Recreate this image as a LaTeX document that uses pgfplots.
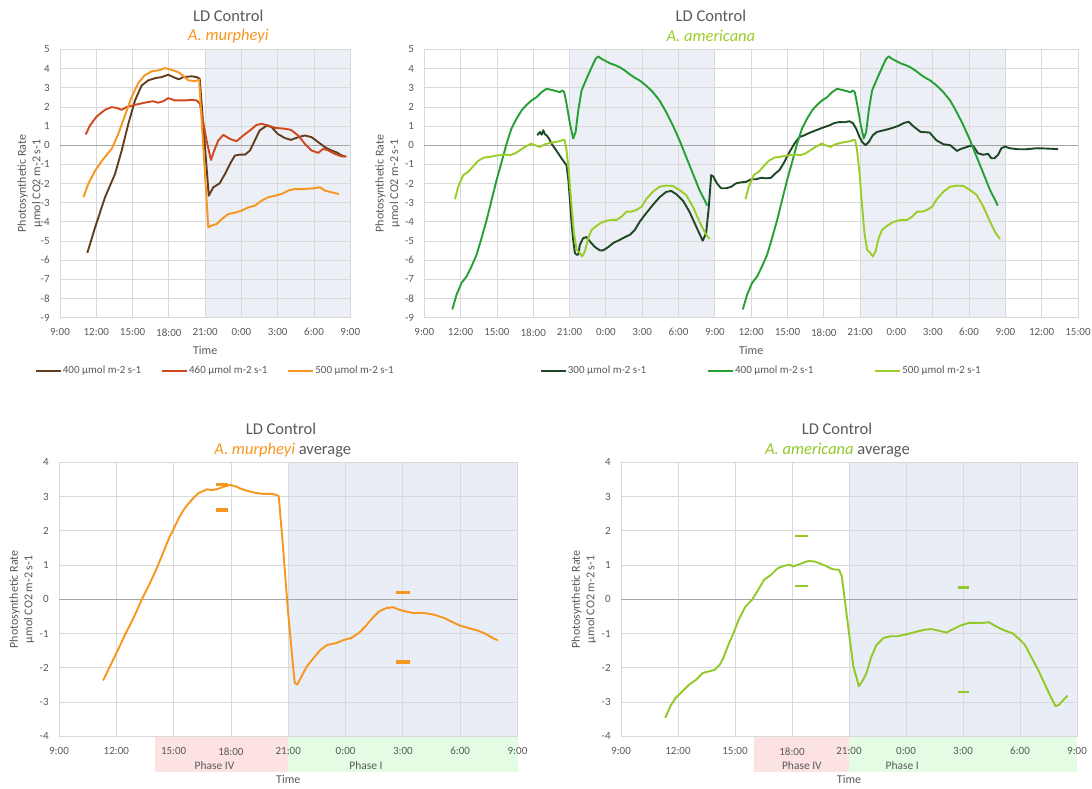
\documentclass[border=0pt]{standalone}
\usepackage{fontspec}
\setmainfont{Carlito}
\usepackage{pgfplots}
\pgfplotsset{compat=1.18}
\definecolor{textgray}{RGB}{89,89,89}
\definecolor{gridgray}{RGB}{217,217,217}
\definecolor{zerogray}{RGB}{166,166,166}
\definecolor{nightA}{RGB}{236,239,246}
\definecolor{nightB}{RGB}{233,237,245}
\definecolor{phasefour}{RGB}{252,226,226}
\definecolor{phaseone}{RGB}{228,252,228}
\definecolor{brownc}{RGB}{99,62,30}
\definecolor{redc}{RGB}{208,72,32}
\definecolor{orangec}{RGB}{247,150,30}
\definecolor{dkgreen}{RGB}{30,72,36}
\definecolor{mdgreen}{RGB}{36,160,52}
\definecolor{ltgreen}{RGB}{155,205,40}
\definecolor{avggreen}{RGB}{146,200,40}
\pgfplotsset{
  chartbase/.style={
    scale only axis, set layers, clip=false, anchor=south west,
    grid=major, major grid style={draw=gridgray, line width=0.8pt},
    axis line style={draw=gridgray, line width=0.8pt},
    major tick length=0pt,
    tick label style={text=textgray, font=\fontsize{11}{13}\selectfont},
    yticklabel style={anchor=east, xshift=-6.8pt},
    /pgf/number format/assume math mode=true,
    ylabel={Photosynthetic Rate\\µmol CO2 m-2 s-1},
    ylabel style={anchor=center, align=center, font=\fontsize{12}{14.5}\selectfont, text=textgray},
    xlabel={Time},
    xlabel style={anchor=center, font=\fontsize{12}{14}\selectfont, text=textgray},
    legend image code/.code={\draw[#1] (0pt,0pt) -- (25pt,0pt);},
    legend cell align=left,
    legend style={draw=none, fill=none, inner sep=0pt, outer sep=0pt, anchor=west,
      font=\fontsize{11}{13}\selectfont, text=textgray, legend columns=3,
      nodes={inner sep=1pt}},
  },
  dl/.style={line width=1.9pt, line join=round},
}
\begin{document}
\begin{tikzpicture}
% ---------- titles ----------
\node[font=\fontsize{16.5}{18}\selectfont, text=textgray] at (228.3pt,772.3pt) {LD Control};
\node[font=\fontsize{16.5}{18}\selectfont\itshape, text=orangec] at (228.3pt,752pt) {A. murpheyi};
\node[font=\fontsize{16.5}{18}\selectfont, text=textgray] at (710.9pt,772.3pt) {LD Control};
\node[font=\fontsize{16.5}{18}\selectfont\itshape, text=ltgreen] at (710.9pt,752pt) {A. americana};
\node[font=\fontsize{16.5}{18}\selectfont, text=textgray] at (281pt,359pt) {LD Control};
\node[font=\fontsize{16.5}{18}\selectfont, text=textgray] at (282.8pt,338pt) {\textcolor{orangec}{\itshape A. murpheyi} average};
\node[font=\fontsize{16.5}{18}\selectfont, text=textgray] at (837pt,359pt) {LD Control};
\node[font=\fontsize{16.5}{18}\selectfont, text=textgray] at (837.4pt,338pt) {\textcolor{avggreen}{\itshape A. americana} average};

% ---------- panel 1 ----------
\begin{axis}[chartbase, at={(60pt,470.5pt)}, width=290.3pt, height=268pt,
  xmin=9, xmax=33, ymin=-9, ymax=5, ytick={-9,-8,...,5},
  xtick={9,12,...,33}, xticklabels={9:00,12:00,15:00,18:00,21:00,0:00,3:00,6:00,9:00},
  xticklabel style={anchor=center, yshift=-14.8pt},
  ylabel style={at={(rel axis cs:-0.1033,0.5)}},
  xlabel style={at={(rel axis cs:0.5,-0.1213)}},
  legend style={at={(rel axis cs:-0.0861,-0.1985)}, /tikz/every even column/.append style={column sep=19pt}},
]
\begin{pgfonlayer}{axis background}
\fill[nightA] (axis cs:21,-9) rectangle (axis cs:33,5);
\end{pgfonlayer}
\draw[zerogray, line width=0.8pt] (axis cs:9,0) -- (axis cs:33,0);
\addplot[dl, brownc] coordinates {(11.26,-5.62)(11.9,-4.3)(12.72,-2.72)(13.55,-1.5)(14.1,-0.28)(14.65,1.12)(15.2,2.34)(15.75,3.12)(16.3,3.39)(16.85,3.5)(17.4,3.56)(17.95,3.68)(18.37,3.56)(18.83,3.44)(19.2,3.56)(19.88,3.6)(20.3,3.56)(20.55,3.47)(21.3,-2.64)(21.67,-2.2)(22.2,-1.99)(22.64,-1.5)(23.05,-0.98)(23.46,-0.54)(23.88,-0.49)(24.3,-0.49)(24.7,-0.28)(25.1,0.24)(25.5,0.77)(26.1,1.03)(26.5,0.94)(27.0,0.59)(27.6,0.37)(28.1,0.28)(28.7,0.42)(29.25,0.51)(29.8,0.42)(30.35,0.16)(30.9,-0.1)(31.45,-0.28)(31.86,-0.37)(32.3,-0.54)(32.6,-0.59)};
\addlegendentry{400 µmol m-2 s-1}
\addplot[dl, redc] coordinates {(11.12,0.56)(11.48,1.03)(12.03,1.5)(12.72,1.85)(13.27,1.99)(13.68,1.95)(14.1,1.85)(14.5,1.99)(15.2,2.11)(16.0,2.22)(16.7,2.3)(17.1,2.22)(17.54,2.3)(17.95,2.46)(18.5,2.34)(19.33,2.34)(19.88,2.37)(20.3,2.34)(20.57,2.16)(21.12,0.24)(21.48,-0.77)(21.75,-0.28)(22.08,0.24)(22.5,0.54)(23.05,0.33)(23.6,0.21)(24.15,0.51)(24.7,0.77)(25.25,1.06)(25.67,1.12)(26.2,1.03)(26.77,0.91)(27.6,0.86)(28.1,0.8)(28.7,0.5)(29.25,0.07)(29.8,-0.28)(30.35,-0.4)(30.76,-0.19)(31.2,-0.28)(31.7,-0.45)(32.3,-0.59)(32.7,-0.59)};
\addlegendentry{460 µmol m-2 s-1}
\addplot[dl, orangec] coordinates {(10.93,-2.72)(11.34,-2.02)(11.9,-1.33)(12.58,-0.72)(13.27,-0.19)(13.82,0.59)(14.37,1.55)(14.92,2.51)(15.47,3.25)(16.0,3.65)(16.58,3.86)(17.13,3.91)(17.68,4.03)(18.2,3.94)(18.78,3.82)(19.2,3.61)(19.6,3.39)(20.16,3.35)(20.5,3.42)(21.26,-4.29)(21.53,-4.2)(21.95,-4.12)(22.36,-3.86)(22.9,-3.6)(23.6,-3.5)(24.0,-3.42)(24.56,-3.25)(25.1,-3.16)(25.67,-2.9)(26.2,-2.72)(26.77,-2.64)(27.3,-2.55)(27.87,-2.37)(28.4,-2.29)(29.25,-2.29)(29.94,-2.25)(30.5,-2.2)(30.9,-2.37)(31.45,-2.46)(32.06,-2.55)};
\addlegendentry{500 µmol m-2 s-1}
\end{axis}

% ---------- panel 2 ----------
\begin{axis}[chartbase, at={(424.3pt,470.5pt)}, width=653.7pt, height=268pt,
  xmin=9, xmax=63, ymin=-9, ymax=5, ytick={-9,-8,...,5},
  xtick={9,12,...,63}, xticklabels={9:00,12:00,15:00,18:00,21:00,0:00,3:00,6:00,9:00,12:00,15:00,18:00,21:00,0:00,3:00,6:00,9:00,12:00,15:00},
  xticklabel style={anchor=center, yshift=-14.8pt},
  ylabel style={at={(rel axis cs:-0.056,0.5)}},
  xlabel style={at={(rel axis cs:0.5,-0.1213)}},
  legend style={at={(rel axis cs:0.177,-0.1985)}, /tikz/every even column/.append style={column sep=60pt}},
]
\begin{pgfonlayer}{axis background}
\fill[nightA] (axis cs:21,-9) rectangle (axis cs:33,5);
\fill[nightA] (axis cs:45,-9) rectangle (axis cs:57,5);
\end{pgfonlayer}
\draw[zerogray, line width=0.8pt] (axis cs:9,0) -- (axis cs:63,0);
\addplot[dl, dkgreen] coordinates {(18.33,0.52)(18.55,0.69)(18.69,0.55)(18.83,0.78)(18.96,0.57)(19.1,0.52)(19.3,0.35)(19.5,0.09)(19.79,-0.17)(20.07,-0.43)(20.34,-0.69)(20.6,-0.92)(20.75,-1.04)(20.9,-1.82)(21.03,-2.86)(21.17,-4.07)(21.3,-4.94)(21.44,-5.63)(21.58,-5.72)(21.72,-5.72)(21.85,-5.2)(22.13,-4.85)(22.4,-4.8)(22.68,-5.03)(23.1,-5.32)(23.5,-5.49)(23.78,-5.49)(24.2,-5.32)(24.6,-5.11)(25.16,-4.94)(25.57,-4.8)(25.98,-4.68)(26.4,-4.42)(26.8,-3.99)(27.33,-3.55)(27.88,-3.12)(28.43,-2.72)(28.98,-2.44)(29.4,-2.39)(29.8,-2.55)(30.36,-2.89)(30.9,-3.47)(31.46,-4.25)(32.0,-4.99)(32.28,-4.59)(32.48,-3.38)(32.7,-1.56)(32.89,-1.65)(33.17,-1.99)(33.52,-2.25)(33.94,-2.25)(34.35,-2.17)(34.76,-1.99)(35.17,-1.94)(35.6,-1.91)(36.0,-1.78)(36.4,-1.78)(36.83,-1.7)(37.24,-1.73)(37.65,-1.7)(37.93,-1.51)(38.34,-1.3)(38.75,-0.87)(39.17,-0.35)(39.58,0.09)(40.0,0.43)(40.4,0.52)(40.8,0.64)(41.23,0.75)(41.64,0.85)(42.06,0.95)(42.47,1.04)(42.88,1.16)(43.3,1.21)(43.7,1.2)(44.1,1.25)(44.4,1.16)(44.67,0.87)(44.95,0.43)(45.17,0.17)(45.44,0.0)(45.72,0.17)(46.05,0.52)(46.38,0.69)(46.74,0.75)(47.15,0.81)(47.5,0.87)(48.08,0.99)(48.65,1.17)(49.03,1.22)(49.4,0.99)(49.98,0.7)(50.74,0.66)(51.3,0.26)(51.88,0.05)(52.45,0.0)(53.0,-0.3)(53.3,-0.2)(53.78,-0.1)(54.1,-0.03)(54.36,-0.05)(54.74,-0.42)(55.16,-0.5)(55.57,-0.45)(55.84,-0.68)(56.1,-0.68)(56.4,-0.5)(56.67,-0.16)(56.95,-0.07)(57.36,-0.16)(58.05,-0.21)(58.73,-0.21)(59.56,-0.16)(60.25,-0.17)(60.94,-0.19)(61.35,-0.21)};
\addlegendentry{300 µmol m-2 s-1}
\addplot[dl, mdgreen] coordinates {(11.31,-8.58)(11.67,-7.8)(12.08,-7.19)(12.5,-6.85)(12.9,-6.33)(13.32,-5.72)(13.73,-4.85)(14.15,-3.9)(14.56,-2.86)(14.97,-1.82)(15.39,-0.87)(15.8,0.09)(16.2,0.87)(16.62,1.39)(17.04,1.82)(17.45,2.11)(17.86,2.34)(18.28,2.51)(18.69,2.77)(19.1,2.95)(19.5,2.89)(19.93,2.82)(20.2,2.77)(20.4,2.86)(20.56,2.77)(20.75,2.17)(21.03,1.13)(21.3,0.35)(21.5,0.69)(21.72,1.82)(21.99,2.86)(22.4,3.47)(22.82,4.07)(23.15,4.51)(23.37,4.64)(23.64,4.51)(23.92,4.42)(24.33,4.28)(24.74,4.19)(25.16,4.07)(25.57,3.9)(26.0,3.69)(26.4,3.52)(26.8,3.38)(27.22,3.17)(27.6,2.95)(27.88,2.77)(28.43,2.34)(28.98,1.73)(29.53,1.04)(30.08,0.26)(30.63,-0.61)(31.18,-1.47)(31.73,-2.34)(32.15,-2.86)(32.37,-3.15)};
\addlegendentry{400 µmol m-2 s-1}
\addplot[dl, ltgreen] coordinates {(11.53,-2.82)(11.8,-2.17)(12.22,-1.56)(12.63,-1.39)(13.05,-1.09)(13.46,-0.81)(13.95,-0.64)(14.42,-0.61)(14.84,-0.55)(15.25,-0.52)(15.66,-0.49)(16.07,-0.52)(16.49,-0.43)(16.9,-0.26)(17.31,-0.09)(17.73,0.05)(17.86,0.09)(18.14,0.0)(18.55,-0.09)(18.96,0.05)(19.38,0.12)(19.79,0.17)(20.2,0.21)(20.48,0.29)(20.6,0.26)(20.75,-0.26)(20.95,-1.47)(21.17,-3.21)(21.36,-4.59)(21.58,-5.46)(21.85,-5.63)(22.05,-5.81)(22.27,-5.55)(22.54,-4.85)(22.82,-4.42)(23.23,-4.21)(23.64,-4.04)(24.06,-3.95)(24.47,-3.9)(24.88,-3.9)(25.3,-3.73)(25.7,-3.47)(26.12,-3.47)(26.53,-3.38)(26.95,-3.21)(27.33,-2.82)(27.88,-2.43)(28.43,-2.17)(28.98,-2.11)(29.53,-2.13)(30.08,-2.34)(30.63,-2.6)(31.18,-3.21)(31.73,-3.99)(32.2,-4.59)(32.56,-4.9)};
\addlegendentry{500 µmol m-2 s-1}
\addplot[dl, mdgreen, forget plot] coordinates {(35.31,-8.58)(35.67,-7.8)(36.08,-7.19)(36.5,-6.85)(36.9,-6.33)(37.32,-5.72)(37.73,-4.85)(38.15,-3.9)(38.56,-2.86)(38.97,-1.82)(39.39,-0.87)(39.8,0.09)(40.2,0.87)(40.62,1.39)(41.04,1.82)(41.45,2.11)(41.86,2.34)(42.28,2.51)(42.69,2.77)(43.1,2.95)(43.5,2.89)(43.93,2.82)(44.2,2.77)(44.4,2.86)(44.56,2.77)(44.75,2.17)(45.03,1.13)(45.3,0.35)(45.5,0.69)(45.72,1.82)(45.99,2.86)(46.4,3.47)(46.82,4.07)(47.15,4.51)(47.37,4.64)(47.64,4.51)(47.92,4.42)(48.33,4.28)(48.74,4.19)(49.16,4.07)(49.57,3.9)(50.0,3.69)(50.4,3.52)(50.8,3.38)(51.22,3.17)(51.6,2.95)(51.88,2.77)(52.43,2.34)(52.98,1.73)(53.53,1.04)(54.08,0.26)(54.63,-0.61)(55.18,-1.47)(55.73,-2.34)(56.15,-2.86)(56.37,-3.15)};
\addplot[dl, ltgreen, forget plot] coordinates {(35.53,-2.82)(35.8,-2.17)(36.22,-1.56)(36.63,-1.39)(37.05,-1.09)(37.46,-0.81)(37.95,-0.64)(38.42,-0.61)(38.84,-0.55)(39.25,-0.52)(39.66,-0.49)(40.07,-0.52)(40.49,-0.43)(40.9,-0.26)(41.31,-0.09)(41.73,0.05)(41.86,0.09)(42.14,0.0)(42.55,-0.09)(42.96,0.05)(43.38,0.12)(43.79,0.17)(44.2,0.21)(44.48,0.29)(44.6,0.26)(44.75,-0.26)(44.95,-1.47)(45.17,-3.21)(45.36,-4.59)(45.58,-5.46)(45.85,-5.63)(46.05,-5.81)(46.27,-5.55)(46.54,-4.85)(46.82,-4.42)(47.23,-4.21)(47.64,-4.04)(48.06,-3.95)(48.47,-3.9)(48.88,-3.9)(49.3,-3.73)(49.7,-3.47)(50.12,-3.47)(50.53,-3.38)(50.95,-3.21)(51.33,-2.82)(51.88,-2.43)(52.43,-2.17)(52.98,-2.11)(53.53,-2.13)(54.08,-2.34)(54.63,-2.6)(55.18,-3.21)(55.73,-3.99)(56.2,-4.59)(56.56,-4.9)};
\end{axis}

% ---------- panel 3 ----------
\begin{axis}[chartbase, at={(59pt,51.7pt)}, width=458.5pt, height=274pt,
  xmin=9, xmax=33, ymin=-4, ymax=4, ytick={-4,-3,...,4},
  xtick={9,12,...,33}, xticklabels={9:00,12:00,15:00,18:00,21:00,0:00,3:00,6:00,9:00},
  xticklabel style={anchor=center, yshift=-15pt},
  ylabel style={at={(rel axis cs:-0.0807,0.5)}},
  xlabel style={at={(rel axis cs:0.5,-0.157)}},
]
\begin{pgfonlayer}{axis background}
\fill[nightB] (axis cs:21,-4) rectangle (axis cs:33,4);
\fill[phasefour] (axis cs:14,-4) rectangle (axis cs:21,-5.034);
\fill[phaseone] (axis cs:21,-4) rectangle (axis cs:33,-5.034);
\end{pgfonlayer}
\node[font=\fontsize{11.5}{13}\selectfont, text=textgray, yshift=-29pt] at (axis cs:17.14,-4) {Phase IV};
\node[font=\fontsize{11.5}{13}\selectfont, text=textgray, yshift=-29pt] at (axis cs:25.07,-4) {Phase I};
\draw[zerogray, line width=0.8pt] (axis cs:9,0) -- (axis cs:33,0);
\addplot[dl, orangec] coordinates {(11.31,-2.37)(11.7,-1.92)(12.15,-1.4)(12.51,-0.97)(12.78,-0.68)(13.05,-0.36)(13.32,-0.02)(13.68,0.38)(14.05,0.82)(14.4,1.29)(14.77,1.8)(15.04,2.1)(15.3,2.4)(15.58,2.66)(15.94,2.9)(16.3,3.1)(16.75,3.21)(17.02,3.19)(17.29,3.22)(17.65,3.29)(17.97,3.34)(18.28,3.29)(18.55,3.22)(18.9,3.16)(19.27,3.11)(19.63,3.08)(19.9,3.08)(20.17,3.08)(20.5,3.02)(20.71,1.64)(20.98,-0.31)(21.22,-1.77)(21.34,-2.44)(21.47,-2.49)(21.7,-2.25)(21.97,-1.96)(22.33,-1.71)(22.7,-1.47)(23.05,-1.33)(23.5,-1.28)(23.95,-1.18)(24.3,-1.13)(24.68,-0.99)(25.04,-0.79)(25.4,-0.55)(25.76,-0.35)(26.12,-0.26)(26.48,-0.23)(26.84,-0.31)(27.2,-0.36)(27.56,-0.4)(28.1,-0.4)(28.64,-0.45)(29.18,-0.55)(29.54,-0.65)(30.0,-0.77)(30.44,-0.84)(30.9,-0.91)(31.34,-1.01)(31.7,-1.13)(31.97,-1.2)};
\addplot[orangec, line width=3.2pt] coordinates {(17.2,3.35)(17.83,3.35)};
\addplot[orangec, line width=3.2pt] coordinates {(17.2,2.61)(17.83,2.61)};
\addplot[orangec, line width=3.2pt] coordinates {(26.66,0.21)(27.38,0.21)};
\addplot[orangec, line width=3.2pt] coordinates {(26.66,-1.83)(27.38,-1.83)};
\end{axis}

% ---------- panel 4 ----------
\begin{axis}[chartbase, at={(621pt,51.7pt)}, width=456pt, height=274pt,
  xmin=9, xmax=33, ymin=-4, ymax=4, ytick={-4,-3,...,4},
  xtick={9,12,...,33}, xticklabels={9:00,12:00,15:00,18:00,21:00,0:00,3:00,6:00,9:00},
  xticklabel style={anchor=center, yshift=-15pt},
  ylabel style={at={(rel axis cs:-0.0811,0.5)}},
  xlabel style={at={(rel axis cs:0.5,-0.157)}},
]
\begin{pgfonlayer}{axis background}
\fill[nightB] (axis cs:21,-4) rectangle (axis cs:33,4);
\fill[phasefour] (axis cs:16,-4) rectangle (axis cs:21,-5.034);
\fill[phaseone] (axis cs:21,-4) rectangle (axis cs:33,-5.034);
\end{pgfonlayer}
\node[font=\fontsize{11.5}{13}\selectfont, text=textgray, yshift=-29pt] at (axis cs:18.52,-4) {Phase IV};
\node[font=\fontsize{11.5}{13}\selectfont, text=textgray, yshift=-29pt] at (axis cs:23.8,-4) {Phase I};
\draw[zerogray, line width=0.8pt] (axis cs:9,0) -- (axis cs:33,0);
\addplot[dl, avggreen] coordinates {(11.33,-3.46)(11.6,-3.12)(11.87,-2.88)(12.23,-2.69)(12.59,-2.49)(12.95,-2.35)(13.3,-2.15)(13.66,-2.1)(13.93,-2.06)(14.2,-1.91)(14.38,-1.72)(14.65,-1.33)(14.92,-0.99)(15.19,-0.6)(15.55,-0.21)(15.9,-0.01)(16.17,0.23)(16.53,0.57)(16.89,0.71)(17.25,0.91)(17.6,0.98)(17.88,1.01)(18.06,0.96)(18.33,1.01)(18.6,1.07)(18.87,1.12)(19.22,1.1)(19.49,1.04)(19.76,0.98)(20.12,0.88)(20.48,0.86)(20.62,0.67)(20.8,-0.11)(21.02,-1.08)(21.23,-1.96)(21.52,-2.54)(21.74,-2.35)(21.92,-2.15)(22.18,-1.67)(22.45,-1.33)(22.81,-1.13)(23.17,-1.08)(23.53,-1.08)(23.89,-1.04)(24.25,-0.99)(24.6,-0.94)(24.96,-0.89)(25.32,-0.87)(25.68,-0.91)(26.13,-0.97)(26.49,-0.87)(26.85,-0.77)(27.3,-0.69)(27.66,-0.69)(28.0,-0.69)(28.37,-0.67)(28.73,-0.79)(29.1,-0.89)(29.63,-1.0)(29.99,-1.18)(30.26,-1.33)(30.53,-1.62)(30.9,-2.0)(31.24,-2.4)(31.6,-2.83)(31.87,-3.12)(32.05,-3.08)(32.3,-2.93)(32.5,-2.81)};
\addplot[avggreen, line width=2.4pt] coordinates {(18.18,1.85)(18.83,1.85)};
\addplot[avggreen, line width=2.4pt] coordinates {(18.18,0.39)(18.83,0.39)};
\addplot[avggreen, line width=2.4pt] coordinates {(26.72,0.34)(27.33,0.34)};
\addplot[avggreen, line width=2.4pt] coordinates {(26.72,-2.7)(27.33,-2.7)};
\end{axis}
\pgfresetboundingbox
\useasboundingbox (0,0) rectangle (1092pt,788pt);
\end{tikzpicture}
\end{document}
